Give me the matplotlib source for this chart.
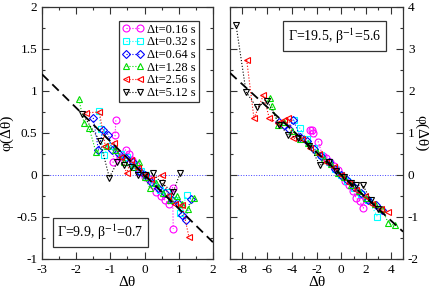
import matplotlib
matplotlib.use('Agg')
import matplotlib.pyplot as plt
from matplotlib.ticker import MultipleLocator

plt.rcParams['font.family'] = ['Liberation Serif', 'DejaVu Serif']
plt.rcParams['mathtext.fontset'] = 'stix'

labels = ['\u0394t=0.16 s', '\u0394t=0.32 s', '\u0394t=0.64 s',
          '\u0394t=1.28 s', '\u0394t=2.56 s', '\u0394t=5.12 s']
colors = ['#ff00ff', '#00ffff', '#0000ff', '#00dd00', '#ff0000', '#000000']
markers = ['o', 's', 'D', '^', '<', 'v']

# left panel (Gamma=9.9)
left_x = [
    [-0.84, -0.86, -0.92, -0.72, -0.55, -0.45, -0.38, -0.25, -0.12, 0.0, 0.12, 0.25, 0.35, 0.48, 0.6, 0.72, 0.82, 0.84],
    [-1.33, -1.28, -1.2, -1.0, -0.7, -0.5, -0.3, -0.1, 0.05, 0.25, 0.45, 0.65, 0.85, 1.05, 1.23],
    [-1.5, -1.35, -1.21, -1.06, -0.95, -0.75, -0.55, -0.35, -0.15, 0.0, 0.2, 0.4, 0.6, 0.8, 1.0, 1.1, 1.2, 1.35],
    [-1.92, -1.77, -1.62, -1.42, -1.1, -0.85, -0.6, -0.35, -0.15, 0.0, 0.15, 0.35, 0.55, 0.75, 0.95, 1.1, 1.28, 1.44],
    [-1.7, -1.32, -1.15, -0.9, -0.7, -0.52, -0.4, -0.2, 0.0, 0.2, 0.5, 0.7, 0.9, 1.1, 1.3],
    [-1.82, -1.3, -1.03, -0.8, -0.6, -0.4, -0.2, 0.0, 0.25, 0.5, 0.84, 1.04],
]
left_y = [
    [0.65, 0.48, 0.15, 0.22, 0.30, 0.25, 0.18, 0.12, 0.03, -0.02, -0.05, -0.12, -0.20, -0.25, -0.30, -0.35, -0.15, -0.64],
    [0.76, 0.55, 0.24, 0.35, 0.25, 0.22, 0.12, 0.05, 0.0, -0.1, -0.18, -0.2, -0.3, -0.45, -0.24],
    [0.68, 0.30, 0.54, 0.48, 0.30, 0.25, 0.20, 0.15, 0.05, 0.0, -0.08, -0.15, -0.22, -0.30, -0.35, -0.48, -0.53, -0.28],
    [0.90, 0.62, 0.56, 0.27, 0.35, 0.30, 0.15, 0.10, 0.16, -0.02, -0.15, -0.10, -0.22, -0.30, -0.25, -0.35, -0.40, -0.27],
    [0.74, 0.75, 0.35, 0.38, 0.22, 0.02, 0.18, 0.08, 0.0, -0.05, 0.0, -0.25, -0.35, -0.36, -0.74],
    [0.73, 0.40, -0.03, 0.15, 0.12, 0.10, 0.0, 0.0, 0.02, -0.1, -0.2, 0.02],
]

# right panel (Gamma=19.5)
right_x = [
    [-2.53, -2.39, -2.3, -1.86, -1.5, -1.2, -0.9, -0.6, -0.3, 0.0, 0.3, 0.6, 0.97, 1.2, 1.5, 1.78, 2.0],
    [-3.8, -3.34, -2.8, -2.2, -1.6, -1.0, -0.5, 0.0, 0.5, 1.0, 1.6, 2.2, 2.92],
    [-5.0, -4.6, -4.2, -3.88, -3.3, -2.8, -2.2, -1.6, -1.0, -0.5, 0.0, 0.5, 1.0, 1.6, 2.2, 2.8, 3.27],
    [-5.76, -5.6, -5.1, -4.6, -4.0, -3.3, -2.7, -2.0, -1.4, -0.8, -0.3, 0.2, 0.8, 1.4, 2.0, 2.7, 3.3, 3.81, 4.35],
    [-7.65, -7.06, -6.3, -5.82, -5.09, -4.6, -4.28, -3.88, -3.2, -2.5, -1.8, -1.2, -0.6, 0.0, 0.6, 1.2, 1.9, 2.5, 3.2, 3.81],
    [-8.51, -7.7, -6.84, -5.98, -5.0, -4.28, -3.5, -2.6, -1.72, -1.0, -0.4, 0.2, 0.8, 1.2, 1.74, 2.4, 3.0],
]
right_y = [
    [1.07, 1.07, 1.0, 0.79, 0.45, 0.40, 0.30, 0.22, 0.12, 0.0, -0.15, -0.25, -0.39, -0.55, -0.62, -0.79, -0.58],
    [1.3, 1.11, 0.85, 0.65, 0.48, 0.30, 0.15, 0.0, -0.15, -0.3, -0.45, -0.6, -0.99],
    [1.25, 1.2, 1.1, 1.31, 0.9, 0.8, 0.62, 0.45, 0.30, 0.15, 0.0, -0.12, -0.28, -0.42, -0.6, -0.72, -0.83],
    [1.83, 1.65, 1.2, 1.25, 1.05, 0.85, 0.75, 0.55, 0.38, 0.25, 0.05, -0.05, -0.25, -0.38, -0.55, -0.68, -0.8, -1.15, -1.2],
    [2.74, 1.35, 1.9, 1.35, 1.23, 1.3, 1.35, 0.88, 0.85, 0.65, 0.5, 0.32, 0.18, 0.0, -0.2, -0.35, -0.5, -0.68, -0.82, -0.87],
    [3.57, 1.98, 1.61, 1.77, 1.2, 0.95, 0.88, 0.7, 0.24, 0.3, 0.1, -0.05, -0.2, -0.25, -0.24, -0.6, -0.8],
]

left_slope = -0.4
right_slope = -0.27

fig = plt.figure(figsize=(4.36, 2.88), dpi=100)
ax1 = fig.add_axes([0.0963, 0.1007, 0.392, 0.875])
ax2 = fig.add_axes([0.5275, 0.1007, 0.397, 0.875])


def draw_panel(ax, xs, ys, slope, xlim, ylim):
    ax.axhline(0, color='#4040ff', ls=':', lw=0.7, zorder=1)
    for i in range(6):
        ax.plot(xs[i], ys[i], ls=':', lw=0.8, color=colors[i], marker=markers[i],
                mfc='none', mec=colors[i], ms=5 if markers[i] != 'D' else 4,
                mew=0.8, label=labels[i], zorder=2)
    ax.plot(xlim, [slope * xlim[0], slope * xlim[1]], color='black', ls=(0, (5, 3)),
            lw=1.3, zorder=3)
    ax.set_xlim(xlim)
    ax.set_ylim(ylim)
    ax.tick_params(which='both', direction='in', top=True, right=True, labelsize=9.5,
                   width=0.8, color='#333333')
    ax.tick_params(which='major', length=5)
    ax.tick_params(which='minor', length=2.5)
    for sp in ax.spines.values():
        sp.set_linewidth(0.9)
        sp.set_color('#333333')
    ax.set_xlabel('\u0394\u03b8', fontsize=11, labelpad=0)


draw_panel(ax1, left_x, left_y, left_slope, (-3, 2), (-1, 2))
ax1.xaxis.set_minor_locator(MultipleLocator(0.5))
ax1.yaxis.set_minor_locator(MultipleLocator(0.25))
ax1.set_yticks([-1, -0.5, 0, 0.5, 1, 1.5, 2])
ax1.set_yticklabels(['-1', '-0.5', '0', '0.5', '1', '1.5', '2'])
ax1.set_xticks([-3, -2, -1, 0, 1, 2])
ax1.set_xticklabels(['-3', '-2', '-1', '0', '1', '2'])
ax1.set_ylabel('\u03c6(\u0394\u03b8)', fontsize=11, labelpad=2)
leg = ax1.legend(loc='upper right', fontsize=9, numpoints=2, handlelength=1.7,
                 handletextpad=0.3, borderpad=0.25, labelspacing=0.05,
                 fancybox=False, framealpha=1, edgecolor='#333333',
                 borderaxespad=1.1)
leg.get_frame().set_linewidth(0.9)
ax1.text(0.09, 0.105, '\u0393=9.9, \u03b2$^{-1}$=0.7', transform=ax1.transAxes,
         fontsize=10, va='center', ha='left',
         bbox=dict(boxstyle='square,pad=0.35', fc='white', ec='#333333', lw=0.9))

draw_panel(ax2, right_x, right_y, right_slope, (-9, 5), (-2, 4))
ax2.xaxis.set_minor_locator(MultipleLocator(1))
ax2.yaxis.set_minor_locator(MultipleLocator(0.5))
ax2.set_xticks([-8, -6, -4, -2, 0, 2, 4])
ax2.set_xticklabels(['-8', '-6', '-4', '-2', '0', '2', '4'])
ax2.set_yticks([-2, -1, 0, 1, 2, 3, 4])
ax2.set_yticklabels(['-2', '-1', '0', '1', '2', '3', '4'])
ax2.tick_params(labelleft=False, labelright=True)
ax2.yaxis.set_label_position('right')
ax2.set_ylabel('\u03c6(\u0394\u03b8)', fontsize=11, rotation=270, labelpad=6)
ax2.text(0.335, 0.885, '\u0393=19.5, \u03b2$^{-1}$=5.6', transform=ax2.transAxes,
         fontsize=10, va='center', ha='left',
         bbox=dict(boxstyle='square,pad=0.35', fc='white', ec='#333333', lw=0.9))

fig.savefig('out.png', dpi=100)
